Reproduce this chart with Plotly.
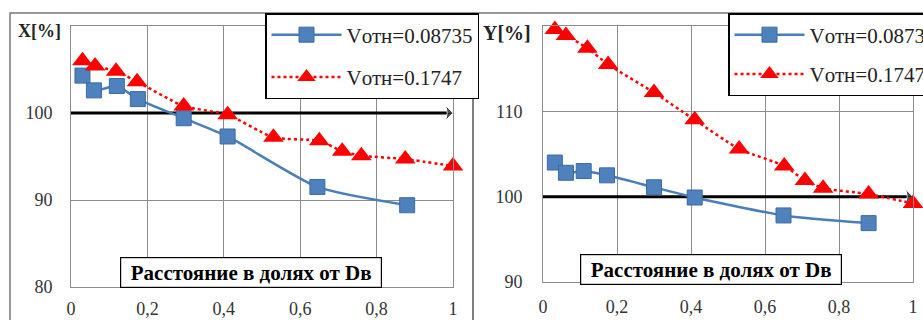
import plotly.graph_objects as go

# ---------------- data ----------------
x_blue_X = [0.03, 0.06, 0.12, 0.175, 0.295, 0.41, 0.645, 0.88]
X_blue = [104.3, 102.6, 103.1, 101.6, 99.4, 97.3, 91.5, 89.4]
x_red_X = [0.03, 0.063, 0.118, 0.173, 0.295, 0.41, 0.53, 0.65, 0.71, 0.76, 0.875, 1.0]
X_red = [106.0, 105.4, 104.8, 103.6, 100.8, 99.8, 97.2, 96.8, 95.6, 95.1, 94.7, 93.9]

x_blue_Y = [0.032, 0.062, 0.11, 0.173, 0.3, 0.41, 0.65, 0.88]
Y_blue = [104.0, 102.8, 103.0, 102.5, 101.1, 99.9, 97.8, 96.9]
x_red_Y = [0.032, 0.062, 0.12, 0.176, 0.3, 0.41, 0.53, 0.652, 0.708, 0.757, 0.88, 1.0]
Y_red = [119.6, 118.9, 117.4, 115.5, 112.2, 109.0, 105.6, 103.6, 101.9, 101.0, 100.3, 99.2]

series_names = ["Vотн=0.08735", "Vотн=0.1747"]
ref_level = 100
arrow_x = [0, 1.0]

x_ticks = [0, 0.2, 0.4, 0.6, 0.8, 1.0]
x_ticktext = ["0", "0,2", "0,4", "0,6", "0,8", "1"]
yX_ticks = [80, 90, 100]
yY_ticks = [90, 100, 110]

axis_title = "Расстояние в долях от Dв"

# ---------------- styles ----------------
BLUE = "#4A7EBB"
BLUE_M = "#4F81BD"
RED = "#FF0000"
GRID = "#8C8C8C"
SERIF = "Liberation Serif, DejaVu Serif, serif"

fig = go.Figure()

def add_panel(xa, ya, leg, xb, yb, xr, yr):
    fig.add_trace(go.Scatter(
        x=arrow_x, y=[ref_level, ref_level], mode="lines+markers",
        line=dict(color="black", width=3),
        marker=dict(symbol="arrow-wide", size=[0, 14], angleref="previous", color="black"),
        xaxis=xa, yaxis=ya, showlegend=False, hoverinfo="skip", cliponaxis=False))
    fig.add_trace(go.Scatter(
        x=xb, y=yb, mode="lines+markers", name=series_names[0],
        line=dict(color=BLUE, width=2.5, shape="spline", smoothing=0.6),
        marker=dict(symbol="square", size=15, color=BLUE_M, line=dict(color="#3A6BA5", width=1)),
        xaxis=xa, yaxis=ya, legend=leg, legendgroup="a" + leg, cliponaxis=False))
    fig.add_trace(go.Scatter(
        x=xr, y=yr, mode="lines+markers", name=series_names[1],
        line=dict(color=RED, width=2.5, dash="dot", shape="spline", smoothing=0.6),
        marker=dict(symbol="triangle-up", size=18, color=RED),
        xaxis=xa, yaxis=ya, legend=leg, legendgroup="b" + leg, cliponaxis=False))

add_panel("x", "y", "legend", x_blue_X, X_blue, x_red_X, X_red)
add_panel("x2", "y2", "legend2", x_blue_Y, Y_blue, x_red_Y, Y_red)

W, H = 923, 320
def px(v):
    return v / W
def py(v):
    return 1 - v / H

axis_common = dict(showgrid=True, gridcolor=GRID, gridwidth=1, showline=True, mirror=True,
                   linecolor=GRID, linewidth=1, zeroline=False, ticks="", automargin=False,
                   tickfont=dict(family=SERIF, size=18, color="#333333"))

legend_common = dict(yanchor="top", xanchor="left", bgcolor="white", bordercolor="black",
                     borderwidth=1.5, itemwidth=70, traceorder="grouped",
                     font=dict(family=SERIF, size=21, color="#222222"))

fig.update_layout(
    template="none",
    width=W, height=H, margin=dict(l=0, r=0, t=0, b=0, pad=0, autoexpand=False),
    paper_bgcolor="white", plot_bgcolor="white",
    xaxis=dict(domain=[px(71), px(453)], range=[0, 1], tickvals=x_ticks, ticktext=x_ticktext,
               anchor="y", ticklabelstandoff=5, **axis_common),
    yaxis=dict(domain=[py(287), py(26)], range=[80, 110], tickvals=yX_ticks, anchor="x",
               ticklabelstandoff=14, **axis_common),
    xaxis2=dict(domain=[px(543), px(913)], range=[0, 1], tickvals=x_ticks, ticktext=x_ticktext,
                anchor="y2", ticklabelstandoff=8, **axis_common),
    yaxis2=dict(domain=[py(282), py(26)], range=[90, 120], tickvals=yY_ticks, anchor="x2",
                ticklabelstandoff=16, **axis_common),
    legend=dict(x=px(265), y=py(13), tracegroupgap=12, **legend_common),
    legend2=dict(x=px(728), y=py(13), tracegroupgap=9, **legend_common),
    shapes=[
        dict(type="rect", xref="paper", yref="paper", x0=px(10), x1=px(473), y0=-0.05, y1=py(13),
             line=dict(color="#777777", width=1.5), layer="below"),
        dict(type="rect", xref="paper", yref="paper", x0=px(473), x1=1.05, y0=-0.05, y1=py(13),
             line=dict(color="#777777", width=1.5), layer="below"),
    ],
    annotations=[
        dict(text="<b>X[%]</b>", xref="paper", yref="paper", x=px(39), y=py(31), showarrow=False,
             xanchor="center", yanchor="middle", font=dict(family=SERIF, size=18, color="#222222")),
        dict(text="<b>Y[%]</b>", xref="paper", yref="paper", x=px(507), y=py(33), showarrow=False,
             xanchor="center", yanchor="middle", font=dict(family=SERIF, size=20, color="#222222")),
        dict(text="<b>" + axis_title + "</b>", xref="paper", yref="paper", x=px(251), y=py(272),
             xanchor="center", yanchor="middle",
             showarrow=False, bgcolor="white", bordercolor="black", borderwidth=1.2,
             width=258, height=27, font=dict(family=SERIF, size=21, color="black")),
        dict(text="<b>" + axis_title + "</b>", xref="paper", yref="paper", x=px(711), y=py(269),
             xanchor="center", yanchor="middle",
             showarrow=False, bgcolor="white", bordercolor="black", borderwidth=1.2,
             width=258, height=27, font=dict(family=SERIF, size=21, color="black")),
    ],
)

fig.write_html("out.html", config={"displayModeBar": False},
               post_script="document.body.style.margin='0px';document.body.style.overflow='hidden';")
